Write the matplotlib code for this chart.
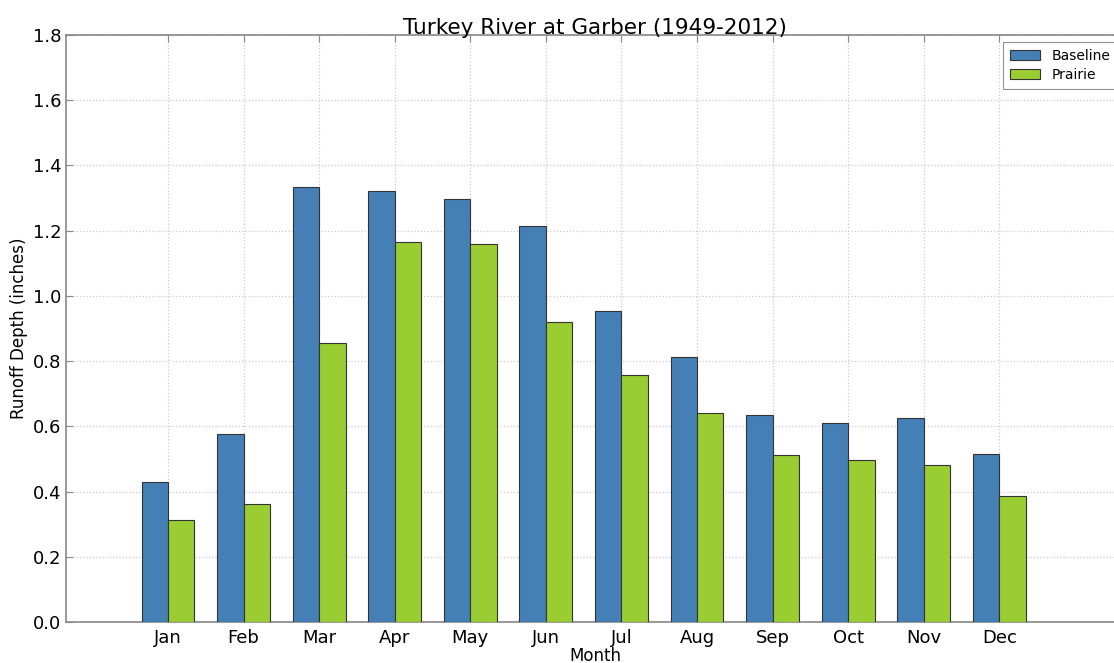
import numpy as np
import matplotlib.pyplot as plt

# Data
months = ['Jan', 'Feb', 'Mar', 'Apr', 'May', 'Jun', 'Jul', 'Aug', 'Sep', 'Oct', 'Nov', 'Dec']
baseline = [0.429, 0.577, 1.334, 1.322, 1.297, 1.214, 0.954, 0.813, 0.635, 0.610, 0.626, 0.515]
prairie = [0.313, 0.362, 0.856, 1.165, 1.159, 0.920, 0.757, 0.641, 0.512, 0.497, 0.481, 0.386]

fig = plt.figure(figsize=(11.14, 6.63), dpi=100)
# axes runs a little past the right edge, like the reference crop
ax = fig.add_axes([66 / 1114, 41 / 663, 1058 / 1114, 587 / 663])

x = np.arange(len(months))
w = 0.35
ax.bar(x - w / 2, baseline, w, color='#4480b5', edgecolor='#333333', linewidth=0.8, label='Baseline', zorder=3)
ax.bar(x + w / 2, prairie, w, color='#9acd32', edgecolor='#333333', linewidth=0.8, label='Prairie', zorder=3)

ax.set_xlim(-1.35, 12.65)
ax.set_ylim(0, 1.8)
ax.set_yticks(np.arange(0, 1.81, 0.2))
ax.set_xticks(x)
ax.set_xticklabels(months)

ax.grid(True, color='#cccccc', linestyle=':', linewidth=0.9, zorder=0)
ax.tick_params(direction='in', top=True, right=True, labelsize=13, color='#888888', length=5)
ax.tick_params(axis='x', pad=5)
for s in ax.spines.values():
    s.set_color('#888888')
    s.set_linewidth(1.2)

ax.set_title("Turkey River at Garber (1949-2012)", fontsize=15.5, pad=1)
ax.set_xlabel("Month", fontsize=12, labelpad=0)
ax.set_ylabel("Runoff Depth (inches)", fontsize=12, labelpad=3)

leg = ax.legend(loc='upper right', fontsize=10, fancybox=False, borderaxespad=0.5,
                handlelength=2.2, handleheight=0.8, borderpad=0.5, labelspacing=0.35)
leg.get_frame().set_edgecolor('#777777')
leg.get_frame().set_linewidth(0.8)

plt.savefig('out.png', dpi=100)
